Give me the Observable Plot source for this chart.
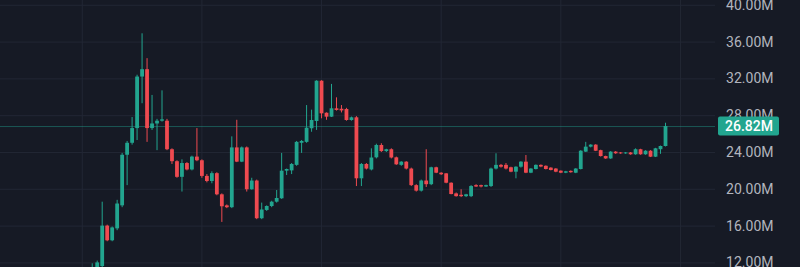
<!DOCTYPE html>
<html>
<head>
<meta charset="utf-8">
<script src="https://cdn.jsdelivr.net/npm/d3@7"></script>
<script src="https://cdn.jsdelivr.net/npm/@observablehq/plot@0.6"></script>
<style>
  html, body { margin: 0; padding: 0; background: #161a25; }
  #chart { width: 800px; height: 267px; overflow: hidden; }
</style>
</head>
<body>
<div id="chart"></div>
<script>
// Candle OHLC values (in millions), one per period
const opens = [
  11.0, 10.9, 11.6, 16.0, 14.4, 15.7, 18.2, 23.7, 25.0, 26.6,
  32.2, 33.0, 26.6, 27.1, 27.4, 27.4, 24.3, 23.0, 21.3, 22.8,
  22.1, 23.5, 23.1, 21.4, 20.85, 21.7, 19.4, 18.2, 18.0, 24.5,
  22.95, 24.5, 19.95, 20.9, 16.8, 17.7, 18.13, 18.6, 18.97, 21.97,
  22.0, 22.6, 25.0, 25.1, 26.58, 27.37, 31.75, 28.27, 27.84, 28.75,
  28.7, 28.67, 27.48, 27.77, 21.14, 22.7, 22.1, 23.42, 24.76, 24.1,
  24.3, 23.42, 22.6, 22.95, 22.2, 20.4, 19.8, 20.9, 20.5, 22.34,
  21.75, 21.68, 20.66, 19.5, 19.35, 19.2, 19.2, 20.4, 20.4, 20.25,
  20.3, 22.2, 22.6, 22.6, 22.34, 21.86, 22.4, 22.95, 21.75, 22.15,
  22.6, 22.5, 22.3, 22.2, 21.97, 21.75, 21.95, 21.75, 22.15, 24.04,
  24.58, 24.8, 24.2, 23.56, 23.3, 24.04, 23.95, 23.85, 23.95, 23.75,
  24.3, 23.75, 24.14, 23.49, 24.3, 24.65
];
const highs = [
  11.9, 12.2, 18.6, 16.1, 15.9, 18.8, 23.9, 25.2, 27.8, 32.4,
  36.9, 34.2, 30.2, 27.6, 30.7, 27.6, 24.4, 23.1, 23.2, 22.9,
  23.6, 26.6, 23.2, 21.6, 21.9, 21.8, 19.5, 18.3, 25.7, 27.5,
  24.6, 24.6, 21.2, 21.0, 18.5, 18.2, 18.7, 19.87, 23.9, 22.2,
  22.8, 25.2, 25.3, 29.1, 28.6, 31.8, 31.8, 28.3, 31.4, 29.94,
  29.1, 28.8, 27.85, 27.9, 22.8, 22.8, 24.4, 24.9, 24.95, 24.35,
  24.4, 23.5, 23.0, 23.0, 22.3, 20.5, 21.0, 24.3, 22.4, 22.4,
  21.8, 21.7, 20.7, 19.6, 19.95, 19.45, 20.4, 20.5, 20.45, 20.45,
  22.3, 23.86, 22.7, 22.8, 22.4, 22.45, 23.0, 23.67, 22.25, 22.65,
  22.65, 22.55, 22.35, 22.25, 22.0, 21.95, 22.0, 22.25, 24.2, 25.1,
  24.85, 24.85, 24.25, 23.6, 24.1, 24.1, 24.0, 24.0, 24.0, 24.4,
  24.35, 24.2, 24.2, 24.45, 24.7, 27.18
];
const lows = [
  10.6, 10.6, 11.4, 14.3, 14.3, 15.5, 18.0, 20.4, 24.8, 25.3,
  29.3, 25.1, 26.4, 24.2, 27.3, 24.2, 22.7, 21.2, 19.7, 22.0,
  22.0, 23.0, 21.2, 20.7, 20.6, 19.3, 16.4, 17.9, 17.9, 22.9,
  22.9, 19.7, 19.9, 16.7, 16.7, 17.6, 18.0, 18.5, 18.9, 21.5,
  21.6, 22.5, 23.9, 25.0, 26.2, 26.4, 27.66, 27.5, 27.8, 28.5,
  28.3, 27.4, 27.4, 20.3, 20.3, 22.1, 22.0, 23.3, 24.0, 24.0,
  23.3, 22.6, 22.5, 22.1, 20.3, 19.7, 19.7, 20.2, 20.4, 21.7,
  21.5, 20.6, 19.4, 19.15, 19.1, 19.1, 19.1, 20.2, 20.15, 20.2,
  20.2, 22.1, 22.3, 22.1, 21.8, 21.14, 22.3, 21.7, 21.7, 22.1,
  22.35, 22.1, 22.0, 21.8, 21.7, 21.7, 21.75, 21.7, 22.1, 24.0,
  24.5, 24.1, 23.5, 23.25, 23.25, 23.8, 23.8, 23.8, 23.7, 23.7,
  23.7, 23.7, 23.45, 23.45, 23.8, 24.6
];
const closes = [
  11.3, 12.0, 16.0, 14.4, 15.8, 18.4, 23.7, 25.0, 26.6, 32.2,
  33.0, 26.6, 27.1, 27.4, 27.55, 24.3, 23.0, 21.3, 22.8, 22.1,
  23.5, 23.1, 21.4, 20.85, 21.7, 19.4, 18.1, 18.0, 24.5, 22.95,
  24.5, 19.95, 20.9, 16.8, 17.75, 18.13, 18.6, 19.0, 21.97, 22.15,
  22.7, 25.1, 25.2, 26.64, 27.48, 31.75, 28.2, 27.84, 28.75, 28.57,
  28.52, 27.48, 27.77, 21.14, 22.7, 22.2, 23.4, 24.76, 24.1, 24.3,
  23.4, 22.66, 22.95, 22.2, 20.4, 19.8, 20.9, 20.5, 22.34, 21.75,
  21.58, 20.66, 19.43, 19.2, 19.2, 19.4, 20.3, 20.25, 20.25, 20.4,
  22.2, 22.6, 22.4, 22.2, 21.86, 22.4, 22.95, 21.75, 22.2, 22.6,
  22.42, 22.15, 22.04, 21.86, 21.75, 21.9, 21.8, 22.2, 24.14, 24.58,
  24.8, 24.14, 23.56, 23.3, 24.04, 23.86, 23.85, 23.95, 23.75, 24.3,
  23.75, 24.14, 23.49, 24.4, 24.65, 26.82
];

// Axis tick values (millions) and vertical grid positions (candle index)
const yTicks = [12, 16, 20, 24, 28, 32, 36, 40];
const gridIdx = [-2, 22, 46, 70, 94, 118];

const GREEN = "#22a58f";
const RED = "#ef4a50";
const FONT = "Roboto, 'Noto Sans', sans-serif";
const fmt = d => d.toFixed(2) + "M";

const candles = opens.map((o, i) => ({
  i, open: o, high: highs[i], low: lows[i], close: closes[i]
}));
const colorOf = d => (d.close >= d.open ? GREEN : RED);
const last = closes[closes.length - 1];

// Custom mark: last-price badge on the price scale
function priceBadge(index, scales, values, dims) {
  const cy = scales.y(last);
  const x0 = dims.width - dims.marginRight + 3;
  const g = d3.create("svg:g");
  g.append("rect")
    .attr("x", x0).attr("y", cy - 9.5)
    .attr("width", 61).attr("height", 19)
    .attr("rx", 2)
    .attr("fill", GREEN);
  g.append("text")
    .attr("x", x0 + 55).attr("y", cy)
    .attr("dy", "0.36em")
    .attr("text-anchor", "end")
    .attr("fill", "#ffffff")
    .attr("font-family", FONT)
    .attr("font-size", 14)
    .attr("font-weight", 500)
    .text(fmt(last));
  return g.node();
}

const chart = Plot.plot({
  width: 800,
  height: 267,
  marginLeft: 0,
  marginRight: 85,
  marginTop: 0,
  marginBottom: 0,
  x: { domain: [-18.4, 125.03], axis: null },
  y: { domain: [11.5, 40.52], axis: null },
  style: {
    background: "#161a25",
    fontFamily: FONT,
    fontSize: "14px",
    color: "#b2b5be",
    overflow: "hidden"
  },
  marks: [
    Plot.ruleY(yTicks, { stroke: "#222734", strokeWidth: 1 }),
    Plot.ruleX(gridIdx, { stroke: "#222734", strokeWidth: 1 }),
    Plot.ruleY([last], { stroke: GREEN, strokeOpacity: 0.45, strokeWidth: 1 }),
    Plot.ruleX(candles, {
      x: "i", y1: "low", y2: "high", stroke: colorOf, strokeWidth: 1, clip: true
    }),
    Plot.ruleX(candles, {
      x: "i", y1: "open", y2: "close", stroke: colorOf, strokeWidth: 3.8, clip: true
    }),
    Plot.axisY(yTicks, {
      anchor: "right",
      tickSize: 0,
      tickPadding: 58,
      textAnchor: "end",
      tickFormat: fmt,
      fill: "#b2b5be",
      fontSize: 14,
      label: null
    }),
    priceBadge
  ]
});

document.getElementById("chart").appendChild(chart);
</script>
</body>
</html>
